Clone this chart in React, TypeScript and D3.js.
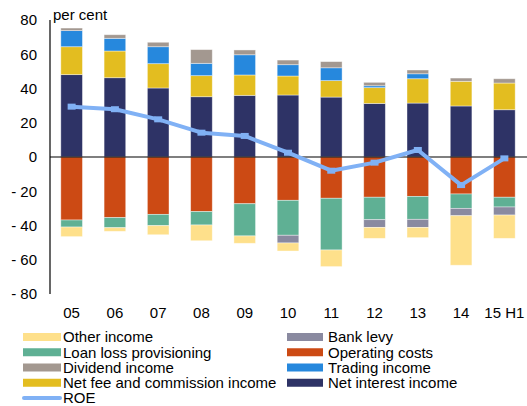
import React from "react";
import * as d3 from "d3";

const WIDTH = 527;
const HEIGHT = 406;
const margin = { top: 20, right: 1, bottom: 112, left: 50 };

const years = ["05", "06", "07", "08", "09", "10", "11", "12", "13", "14", "15 H1"];

// positive contributions
const netInterest = [48.1, 46.3, 40.3, 35.2, 36.0, 36.2, 35.0, 31.3, 31.5, 29.8, 27.6];
const netFee = [16.3, 15.6, 14.2, 12.3, 11.9, 11.1, 9.6, 9.2, 14.2, 14.4, 15.6];
const trading = [9.4, 7.4, 9.9, 7.2, 11.8, 6.6, 7.5, 1.1, 2.9, 0, 0];
const dividend = [1.5, 2.1, 2.6, 8.0, 2.8, 2.7, 3.6, 2.0, 2.2, 1.9, 2.5];
// negative contributions
const opCosts = [-36.8, -35.4, -33.5, -31.9, -27.3, -25.3, -24.1, -23.5, -23.0, -21.6, -23.5];
const loanLoss = [-4.1, -5.9, -6.6, -7.8, -18.8, -20.4, -30.2, -13.1, -13.4, -8.4, -5.7];
const bankLevy = [0, 0, 0, 0, 0, -4.5, 0, -4.5, -4.7, -4.3, -4.7];
const otherIncome = [-5.6, -2.1, -5.3, -9.2, -4.3, -4.7, -9.7, -6.4, -6.0, -28.9, -13.6];
const roe = [29.4, 27.9, 22.0, 14.2, 12.3, 2.5, -8.0, -3.3, 4.1, -16.4, -0.8];

const yTicks = [80, 60, 40, 20, 0, -20, -40, -60, -80];

const series = [
  { key: "nii", label: "Net interest income", color: "#2e3366", values: netInterest },
  { key: "fee", label: "Net fee and commission income", color: "#e3bd20", values: netFee },
  { key: "trading", label: "Trading income", color: "#2688dd", values: trading },
  { key: "dividend", label: "Dividend income", color: "#a39890", values: dividend },
  { key: "op", label: "Operating costs", color: "#cc4a14", values: opCosts },
  { key: "llp", label: "Loan loss provisioning", color: "#5fb094", values: loanLoss },
  { key: "levy", label: "Bank levy", color: "#8a8aa0", values: bankLevy },
  { key: "other", label: "Other income", color: "#fee08b", values: otherIncome },
];
const roeColor = "#80b1f5";

const legendLeft = ["other", "llp", "dividend", "fee"];
const legendRight = ["levy", "op", "trading", "nii"];

const FONT = "Liberation Sans, Arial, sans-serif";

export default function App() {
  const rows = years.map((y, i) => {
    const r: any = { year: y };
    series.forEach((s) => (r[s.key] = s.values[i]));
    return r;
  });
  const stacked = d3
    .stack()
    .keys(series.map((s) => s.key))
    .offset(d3.stackOffsetDiverging)(rows);

  const x = d3
    .scaleBand()
    .domain(years)
    .range([margin.left, WIDTH - margin.right])
    .paddingInner(0.5)
    .paddingOuter(0.25);
  const y = d3
    .scaleLinear()
    .domain([-80, 80])
    .range([HEIGHT - margin.bottom, margin.top]);

  const line = d3
    .line<number>()
    .x((_, i) => (x(years[i]) as number) + x.bandwidth() / 2)
    .y((d) => y(d));

  const byKey = (k: string) => series.find((s) => s.key === k)!;
  const rowY = (i: number) => 337 + i * 15.25;

  return (
    <svg
      width={WIDTH}
      height={HEIGHT}
      style={{ position: "absolute", left: 0, top: 0, fontFamily: FONT }}
    >
      {stacked.map((layer, li) => (
        <g key={layer.key} fill={series[li].color}>
          {layer.map((d, i) =>
            d[1] - d[0] === 0 ? null : (
              <rect
                key={i}
                x={x(years[i])}
                width={x.bandwidth()}
                y={y(Math.max(d[0], d[1]))}
                height={Math.abs(y(d[0]) - y(d[1]))}
                stroke="#ffffff"
                strokeOpacity={0.5}
                strokeWidth={0.8}
              />
            )
          )}
        </g>
      ))}

      <line x1={margin.left} x2={WIDTH} y1={y(0)} y2={y(0)} stroke="#000" strokeWidth={1.2} />
      <line x1={margin.left} x2={margin.left} y1={y(80)} y2={y(-80)} stroke="#000" strokeWidth={1.2} />

      {yTicks.map((t) => (
        <text key={t} x={37} y={y(t)} dy="0.35em" textAnchor="end" fontSize={15}>
          {t < 0 ? `- ${-t}` : t}
        </text>
      ))}
      <text x={53} y={20} fontSize={15}>per cent</text>

      {years.map((yr) => (
        <text
          key={yr}
          x={(x(yr) as number) + x.bandwidth() / 2}
          y={318}
          textAnchor="middle"
          fontSize={15}
        >
          {yr}
        </text>
      ))}

      <path d={line(roe) || ""} fill="none" stroke={roeColor} strokeWidth={4} strokeLinejoin="round" />
      {roe.map((v, i) => (
        <rect
          key={i}
          x={(x(years[i]) as number) + x.bandwidth() / 2 - 4}
          y={y(v) - 3}
          width={8}
          height={6}
          fill={roeColor}
        />
      ))}

      {legendLeft.map((k, i) => (
        <g key={k}>
          <rect x={23} y={rowY(i) - 4} width={38} height={8} fill={byKey(k).color} />
          <text x={63} y={rowY(i)} dy="0.35em" fontSize={15}>{byKey(k).label}</text>
        </g>
      ))}
      <g>
        <line x1={24} x2={60} y1={rowY(4)} y2={rowY(4)} stroke={roeColor} strokeWidth={4} strokeLinecap="round" />
        <text x={63} y={rowY(4)} dy="0.35em" fontSize={15}>ROE</text>
      </g>
      {legendRight.map((k, i) => (
        <g key={k}>
          <rect x={287} y={rowY(i) - 4} width={36} height={8} fill={byKey(k).color} />
          <text x={328} y={rowY(i)} dy="0.35em" fontSize={15}>{byKey(k).label}</text>
        </g>
      ))}
    </svg>
  );
}
